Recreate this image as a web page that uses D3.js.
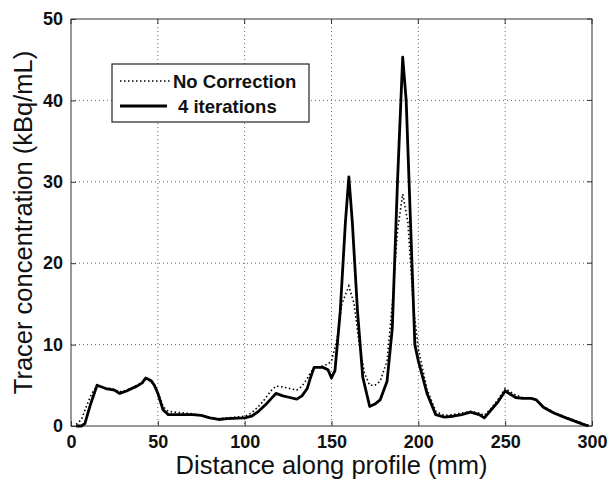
<!DOCTYPE html>
<html>
<head>
<meta charset="utf-8">
<script src="https://cdn.jsdelivr.net/npm/d3@7"></script>
<style>
  body { margin: 0; background: #fff; }
  text { font-family: "Liberation Sans", Arial, sans-serif; }
</style>
</head>
<body>
<svg id="chart" width="610" height="485"></svg>
<script>
// distance along profile (mm) and concentrations (kBq/mL)
const iterX = [3, 6, 8, 11, 15, 20, 25, 28, 32, 35, 38, 41, 43, 46, 48, 50, 53, 56, 60, 70, 75, 80, 85, 90, 100, 104, 108, 112, 115, 118, 122, 126, 130, 133, 136, 138, 140, 145, 148, 150, 152, 155, 158, 160, 162, 165, 168, 172, 175, 178, 182, 185, 188, 191, 193, 196, 198, 200, 205, 210, 215, 220, 225, 230, 235, 238, 242, 246, 250, 253, 256, 260, 265, 268, 272, 278, 285, 290, 295, 298];
const iterY = [0, 0, 0.3, 2.5, 5.0, 4.6, 4.4, 4.0, 4.3, 4.6, 4.9, 5.3, 5.9, 5.6, 5.0, 4.0, 2.0, 1.4, 1.4, 1.4, 1.3, 1.0, 0.8, 0.9, 1.0, 1.2, 1.8, 2.6, 3.3, 4.0, 3.7, 3.5, 3.3, 3.7, 4.6, 6.0, 7.2, 7.2, 6.9, 5.9, 6.8, 14, 25, 30.6, 25, 14, 6, 2.4, 2.7, 3.2, 5.5, 12, 30, 45.3, 40, 22, 10, 8, 4, 1.4, 1.1, 1.2, 1.4, 1.7, 1.4, 1.0, 2.0, 3.0, 4.3, 3.9, 3.5, 3.4, 3.4, 3.2, 2.3, 1.6, 1.0, 0.6, 0.2, 0];

const noCorrX = [3, 6, 9, 12, 15, 20, 25, 28, 32, 35, 38, 41, 43, 46, 48, 50, 53, 56, 60, 70, 75, 80, 85, 90, 100, 104, 108, 112, 115, 118, 122, 126, 130, 133, 136, 138, 140, 145, 148, 150, 153, 156, 160, 163, 166, 169, 172, 175, 178, 182, 185, 188, 191, 194, 197, 200, 205, 210, 215, 220, 225, 230, 235, 238, 242, 246, 250, 253, 256, 260, 265, 268, 272, 278, 285, 290, 295, 298];
const noCorrY = [0.2, 0.8, 2.5, 4.0, 4.9, 4.7, 4.5, 4.2, 4.4, 4.7, 5.0, 5.3, 5.7, 5.5, 5.0, 4.2, 2.4, 1.8, 1.7, 1.5, 1.3, 1.0, 0.9, 1.0, 1.2, 1.6, 2.4, 3.4, 4.3, 4.9, 4.8, 4.6, 4.4, 4.9, 5.8, 6.6, 7.1, 7.4, 7.6, 8.0, 10.5, 15, 17.2, 15, 10, 6.5, 5.0, 5.0, 5.5, 8.0, 15, 24, 28.5, 25, 15, 9.5, 4.5, 1.8, 1.3, 1.4, 1.6, 1.8, 1.6, 1.3, 2.2, 3.3, 4.6, 4.2, 3.8, 3.5, 3.4, 3.2, 2.4, 1.7, 1.1, 0.7, 0.3, 0.1];

const xTicks = [0, 50, 100, 150, 200, 250, 300];
const yTicks = [0, 10, 20, 30, 40, 50];
const legendLabels = ["No Correction", "4 iterations"];

const svg = d3.select("#chart");
const margin = {top: 19, right: 18, bottom: 59, left: 71};
const W = 610, H = 485;
const innerW = W - margin.left - margin.right;
const innerH = H - margin.top - margin.bottom;

const x = d3.scaleLinear().domain([0, 300]).range([0, innerW]);
const y = d3.scaleLinear().domain([0, 50]).range([innerH, 0]);

const g = svg.append("g").attr("transform", `translate(${margin.left},${margin.top})`);

// grid
g.append("g").selectAll("line")
  .data(xTicks.slice(1, -1))
  .join("line")
    .attr("x1", d => x(d)).attr("x2", d => x(d))
    .attr("y1", 0).attr("y2", innerH)
    .attr("stroke", "#666").attr("stroke-width", 1)
    .attr("stroke-dasharray", "1,3");
g.append("g").selectAll("line")
  .data(yTicks.slice(1, -1))
  .join("line")
    .attr("y1", d => y(d)).attr("y2", d => y(d))
    .attr("x1", 0).attr("x2", innerW)
    .attr("stroke", "#666").attr("stroke-width", 1)
    .attr("stroke-dasharray", "1,3");

// axes
const xAxis = g.append("g")
    .attr("transform", `translate(0,${innerH})`)
    .call(d3.axisBottom(x).tickValues(xTicks).tickSize(-5).tickPadding(9))
const yAxis = g.append("g")
    .call(d3.axisLeft(y).tickValues(yTicks).tickSize(-5).tickPadding(8));
[xAxis, yAxis].forEach(a => {
  a.select(".domain").remove();
  a.selectAll(".tick line").attr("stroke", "#333");
  a.selectAll(".tick text")
    .attr("font-family", "Liberation Sans, Arial, sans-serif")
    .attr("font-size", 18).attr("font-weight", "bold").attr("fill", "#111");
});
// right / top ticks
g.append("g").selectAll("line").data(yTicks).join("line")
  .attr("x1", innerW).attr("x2", innerW - 5)
  .attr("y1", d => y(d)).attr("y2", d => y(d)).attr("stroke", "#333");
g.append("g").selectAll("line").data(xTicks).join("line")
  .attr("y1", 0).attr("y2", 5)
  .attr("x1", d => x(d)).attr("x2", d => x(d)).attr("stroke", "#333");

g.append("rect")
  .attr("width", innerW).attr("height", innerH)
  .attr("fill", "none").attr("stroke", "#333").attr("stroke-width", 1);

// lines
const line = d3.line().x(d => x(d[0])).y(d => y(d[1]));
g.append("path")
  .datum(d3.zip(noCorrX, noCorrY))
  .attr("d", line)
  .attr("fill", "none").attr("stroke", "#000")
  .attr("stroke-width", 1.6).attr("stroke-dasharray", "1.5,2.5");
g.append("path")
  .datum(d3.zip(iterX, iterY))
  .attr("d", line)
  .attr("fill", "none").attr("stroke", "#000")
  .attr("stroke-width", 2.8).attr("stroke-linejoin", "round");

// legend
const lg = svg.append("g").attr("transform", "translate(112,64)");
lg.append("rect").attr("width", 197).attr("height", 58)
  .attr("fill", "#fff").attr("stroke", "#222").attr("stroke-width", 1.2);
const styles = [
  {w: 1.6, dash: "1.5,2.5"},
  {w: 2.8, dash: null}
];
legendLabels.forEach((t, i) => {
  const yy = 17 + i * 25;
  lg.append("line")
    .attr("x1", 8).attr("x2", i === 0 ? 60 : 55)
    .attr("y1", yy).attr("y2", yy)
    .attr("stroke", "#000").attr("stroke-width", styles[i].w)
    .attr("stroke-dasharray", styles[i].dash);
  lg.append("text")
    .attr("x", i === 0 ? 61 : 66).attr("y", yy + 6.5)
    .attr("font-size", 18.5).attr("font-weight", "bold").attr("fill", "#111")
    .text(t);
});

// axis labels
svg.append("text")
  .attr("x", margin.left + innerW / 2).attr("y", 474)
  .attr("text-anchor", "middle").attr("font-size", 25.5).attr("fill", "#111")
  .text("Distance along profile (mm)");
svg.append("text")
  .attr("transform", `translate(32,${margin.top + innerH / 2}) rotate(-90)`)
  .attr("text-anchor", "middle").attr("font-size", 25.5).attr("fill", "#111")
  .text("Tracer concentration (kBq/mL)");
</script>
</body>
</html>
